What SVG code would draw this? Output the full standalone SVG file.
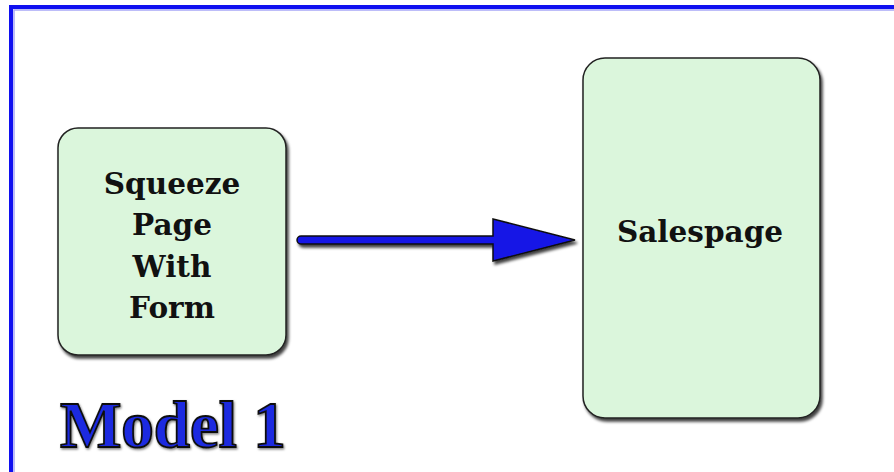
<svg xmlns="http://www.w3.org/2000/svg" width="894" height="472" viewBox="0 0 894 472">
<defs>
<filter id="sh" x="-10%" y="-10%" width="130%" height="130%">
<feDropShadow dx="2" dy="3" stdDeviation="1.5" flood-color="#000" flood-opacity="0.75"/>
</filter>
<filter id="tsh" x="-10%" y="-10%" width="130%" height="130%">
<feDropShadow dx="1" dy="1.5" stdDeviation="1" flood-color="#000" flood-opacity="0.5"/>
</filter>
<style>
.box{fill:#dbf6dc;stroke:#222;stroke-width:1.5;filter:url(#sh)}
.lbl{font-family:"DejaVu Serif","Liberation Serif",serif;font-weight:bold;font-size:29.5px;fill:#111;text-anchor:middle}
</style>
</defs>
<rect x="0" y="0" width="894" height="472" fill="#fff"/>
<path d="M11 474 V7 H896" fill="none" stroke="#1010f0" stroke-width="4"/>
<path d="M14 474 V10 H896" fill="none" stroke="#a8a8f8" stroke-width="1.5"/>
<g id="node-squeeze">
<rect class="box" x="58" y="128" width="228" height="227" rx="20"/>
<text class="lbl" x="172" y="194">Squeeze</text>
<text class="lbl" x="172" y="235">Page</text>
<text class="lbl" x="172" y="277">With</text>
<text class="lbl" x="172" y="318">Form</text>
</g>
<g id="node-salespage">
<rect class="box" x="583" y="58" width="237" height="360" rx="22"/>
<text class="lbl" x="700" y="242">Salespage</text>
</g>
<g id="connectors">
<path d="M301 236 H493 V219 L575 240 L493 261 V244 H301 A4 4 0 0 1 301 236 Z" fill="#1414e6" stroke="#111" stroke-width="1.5" stroke-linejoin="miter" filter="url(#sh)"/>
</g>
<g id="title">
<text x="60" y="447" font-family="Liberation Serif, serif" font-weight="bold" font-size="65" fill="#1a2ae0" stroke="#111" stroke-width="1.8" filter="url(#tsh)">Model 1</text>
</g>
</svg>
